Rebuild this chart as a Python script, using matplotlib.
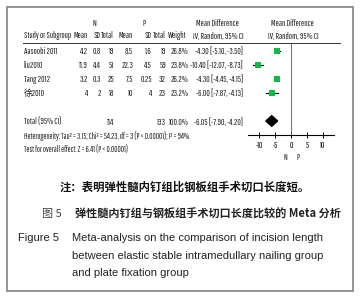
import matplotlib
matplotlib.use("Agg")
import matplotlib.pyplot as plt
from matplotlib.patches import Rectangle, Polygon

studies = ["Aasoobi 2011", "liu2010", "Tang 2012", "徐2010"]
n_mean = ["4.2", "11.9", "3.2", "4"]
n_sd = ["0.8", "4.4", "0.3", "2"]
n_total = ["19", "51", "25", "18"]
p_mean = ["8.5", "22.3", "7.5", "10"]
p_sd = ["1.6", "4.5", "0.25", "4"]
p_total = ["19", "59", "32", "23"]
weights = [26.8, 23.8, 26.2, 23.2]
md = [-4.30, -10.40, -4.30, -6.00]
ci_lo = [-5.10, -12.07, -4.45, -7.87]
ci_hi = [-3.50, -8.73, -4.15, -4.13]
total_n, total_p = "114", "133"
total_md, total_lo, total_hi = -6.05, -7.90, -4.20
xticks = [-10, -5, 0, 5, 10]

W, H = 360, 300
fig = plt.figure(figsize=(W / 100, H / 100), dpi=100)
fig.patch.set_facecolor("white")

TF = ["Pathway Gothic One", "Noto Sans CJK SC"]
CJK = ["Noto Sans CJK SC", "DejaVu Sans"]
ENG = ["Liberation Sans", "DejaVu Sans"]


def fx(x):
    return x / W


def fy(y):
    return 1 - y / H


def t(x, y, s, ha="left", size=6.2, fam=TF, **kw):
    fig.text(fx(x), fy(y), s, ha=ha, va="center", fontsize=size, family=fam,
             color=kw.pop("color", "#222222"), **kw)


# border
fig.add_artist(Rectangle((fx(7), fy(291)), fx(346), (284) / H, transform=fig.transFigure,
                         fill=False, edgecolor="#8a8a8a", linewidth=1.3))

# headers
t(94, 23, "N", ha="center")
t(144, 23, "P", ha="center")
t(217, 23, "Mean Difference", ha="center")
t(292, 23, "Mean Difference", ha="center")
hy = 36
t(24, hy, "Study or Subgroup", size=6.0)
t(88, hy, "Mean", ha="right")
t(101, hy, "SD", ha="right")
t(114, hy, "Total", ha="right")
t(133, hy, "Mean", ha="right")
t(152, hy, "SD", ha="right")
t(166, hy, "Total", ha="right")
t(187, hy, "Weight", ha="right")
t(218, hy, "IV, Random, 95% CI", ha="center")
t(293, hy, "IV, Random, 95% CI", ha="center")
fig.add_artist(plt.Line2D([fx(23), fx(340)], [fy(43), fy(43)], transform=fig.transFigure,
                          color="#333333", linewidth=0.7))

for i, s in enumerate(studies):
    y = 51 + 14 * i
    t(24, y, s)
    t(88, y, n_mean[i], ha="right")
    t(101, y, n_sd[i], ha="right")
    t(114, y, n_total[i], ha="right")
    t(133, y, p_mean[i], ha="right")
    t(152, y, p_sd[i], ha="right")
    t(166, y, p_total[i], ha="right")
    t(188, y, f"{weights[i]:.1f}%", ha="right")
    t(243, y, f"{md[i]:.2f} [{ci_lo[i]:.2f}, {ci_hi[i]:.2f}]", ha="right")

ty = 122
t(24, ty, "Total (95% CI)")
t(114, ty, total_n, ha="right")
t(166, ty, total_p, ha="right")
t(189, ty, "100.0%", ha="right")
t(243, ty, f"{total_md:.2f} [{total_lo:.2f}, {total_hi:.2f}]", ha="right")
t(24, 136, "Heterogeneity: Tau² = 3.15; Chi² = 54.23, df = 3 (P < 0.00001); I² = 94%", size=5.8)
t(24, 150, "Test for overall effect: Z = 6.41 (P < 0.00001)", size=5.8)

# forest axes
ax = fig.add_axes([fx(248), fy(135), (334 - 248) / W, (135 - 43) / H])
ax.set_xlim(-13.5, 13.5)
ax.set_ylim(6.0, -0.571)
ax.patch.set_alpha(0)
for sp in ["top", "left", "right"]:
    ax.spines[sp].set_visible(False)
ax.spines["bottom"].set_linewidth(0.8)
ax.set_yticks([])
ax.set_xticks(xticks)
ax.set_xticklabels([str(v) for v in xticks], fontsize=6, family=TF)
ax.tick_params(axis="x", direction="inout", length=4, width=0.7, pad=2)
ax.axvline(0, color="#555555", linewidth=0.6)
for i in range(len(studies)):
    ax.plot([ci_lo[i], ci_hi[i]], [i, i], color="black", linewidth=0.8)
    ax.plot(md[i], i, marker="s", markersize=2.4 + weights[i] * 0.06, color="#11b84a",
            markeredgewidth=0)
ax.add_patch(Polygon([[total_lo, 5], [total_md, 4.62], [total_hi, 5], [total_md, 5.38]],
                     closed=True, color="black"))

t(285, 157, "N", ha="center", size=6)
t(298, 157, "P", ha="center", size=6)

# captions
t(185, 187, "注：表明弹性髓内钉组比钢板组手术切口长度短。", ha="center", size=8.2, fam=CJK,
  fontweight="bold", color="#111111")
t(42, 214, "图 5", size=8.0, fam=CJK, color="#444444")
t(75, 214, "弹性髓内钉组与钢板组手术切口长度比较的 Meta 分析", size=8.0, fam=CJK,
  fontweight="bold", color="#222222")
t(18, 238, "Figure 5", size=8.0, fam=ENG, color="#222222")
t(72, 238, "Meta-analysis on the comparison of incision length", size=8.0, fam=ENG, color="#222222")
t(72, 256, "between elastic stable intramedullary nailing group", size=8.0, fam=ENG, color="#222222")
t(72, 273, "and plate fixation group", size=8.0, fam=ENG, color="#222222")

fig.savefig("out.png", dpi=100, facecolor="white")
